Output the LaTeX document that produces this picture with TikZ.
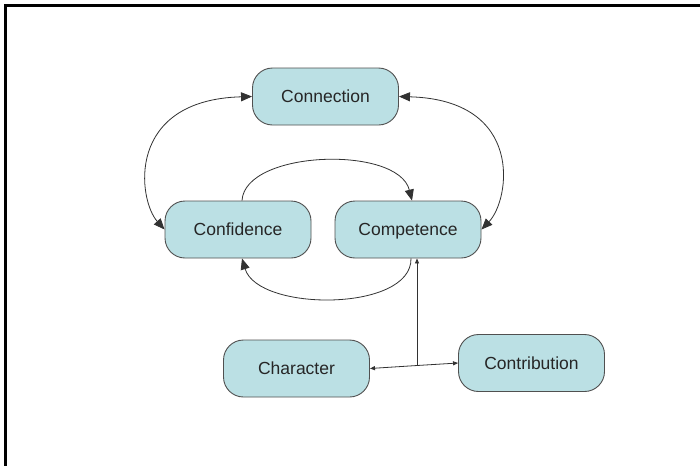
\documentclass[tikz,border=0pt]{standalone}
\usepackage{fontspec}
\setmainfont{Liberation Sans}
\usetikzlibrary{arrows.meta}
\definecolor{boxfill}{RGB}{187,224,228}
\definecolor{boxline}{RGB}{80,80,80}
\definecolor{wire}{RGB}{50,50,50}
\begin{document}
\begin{tikzpicture}[x=1pt,y=-1pt,
  cbox/.style={draw=boxline, line width=0.9pt, fill=boxfill, rounded corners=20pt,
    minimum width=146pt, minimum height=57pt, inner sep=0pt,
    text height=12.7pt, text depth=0pt,
    font=\fontsize{17.5}{20}\selectfont, text=black!85},
  link/.style={draw=wire, line width=0.8pt},
  bigtip/.style={-{Triangle[length=11pt,width=9pt]}},
  bigboth/.style={{Triangle[length=11pt,width=9pt]}-{Triangle[length=11pt,width=9pt]}},
  smalltip/.style={-{Triangle[length=5pt,width=4pt]}}]
  % page
  \fill[white] (0,0) rectangle (700,466);
  \useasboundingbox (0,0) rectangle (700,466);
  \draw[line width=3pt] (700,5) -- (5,5) -- (5,466);

  % the five C's
  \node[cbox] (conn) at (325.5,96.5) {Connection};
  \node[cbox] (conf) at (238,229.5) {Confidence};
  \node[cbox] (comp) at (408,229.5) {Competence};
  \node[cbox] (char) at (296.5,368.5) {Character};
  \node[cbox] (contr) at (531.5,363) {Contribution};

  % outer loops to Connection
  \draw[link,bigboth] (conn.west) .. controls (125,100) and (138,200) .. (conf.west);
  \draw[link,bigboth] (conn.east) .. controls (525,100) and (510,200) .. (comp.east);

  % Confidence <-> Competence
  \draw[link,bigtip] ([xshift=4pt]conf.north) .. controls (245,150) and (398,145) .. ([xshift=4pt]comp.north);
  \draw[link,bigtip] ([xshift=3pt]comp.south) .. controls (412,312) and (258,312) .. ([xshift=4pt]conf.south);

  % Character / Contribution feeding Competence
  \coordinate (j) at (417,365.5);
  \draw[link,smalltip] (j) -- (j |- comp.south);
  \draw[link,smalltip] (j) -- (char.east);
  \draw[link,smalltip] (j) -- (contr.west);
\end{tikzpicture}
\end{document}
